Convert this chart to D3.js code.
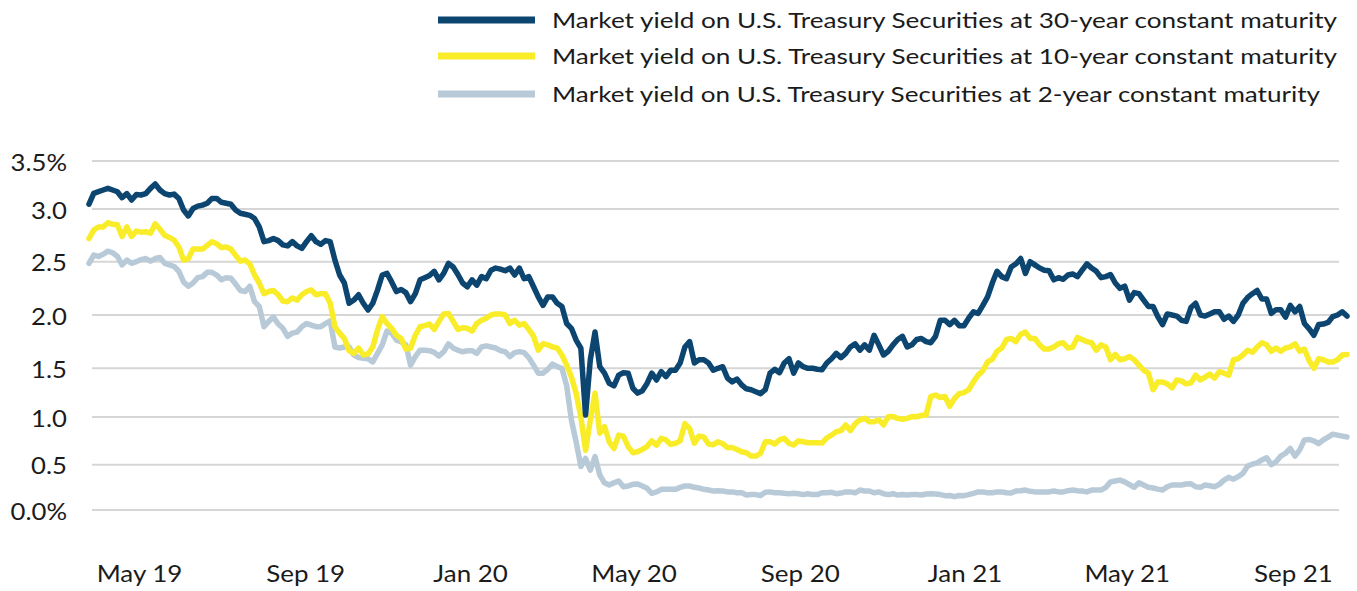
<!DOCTYPE html>
<html><head><meta charset="utf-8">
<script src="https://cdn.jsdelivr.net/npm/d3@7"></script>
<style>
body{margin:0;background:#fff;}
text{font-family:Lato,"Open Sans",sans-serif;fill:#1b1b1b;}
</style>
</head><body>
<svg id="chart" width="1357" height="591"></svg>
<script>
// ---- data: observations every half week from 25 Mar 2019 ----
const startDate = new Date(2019, 2, 25);
const endDate = new Date(2021, 9, 11);
const weekSteps = d3.range(0, 133.5, 0.5);

const y30 = [
  3.05, 3.163, 3.18, 3.198, 3.215, 3.198, 3.18, 3.118, 3.16, 3.094,
  3.15, 3.146, 3.16, 3.215, 3.26, 3.198, 3.16, 3.146, 3.155, 3.11,
  2.99, 2.934, 3.005, 3.03, 3.04, 3.06, 3.11, 3.11, 3.07, 3.06,
  3.05, 2.99, 2.96, 2.95, 2.94, 2.91, 2.83, 2.69, 2.70, 2.72,
  2.70, 2.66, 2.65, 2.69, 2.65, 2.627, 2.69, 2.747, 2.69, 2.665,
  2.70, 2.69, 2.515, 2.375, 2.30, 2.11, 2.14, 2.19, 2.11, 2.047,
  2.11, 2.234, 2.375, 2.39, 2.31, 2.22, 2.24, 2.21, 2.125, 2.20,
  2.33, 2.35, 2.37, 2.41, 2.33, 2.39, 2.485, 2.45, 2.38, 2.30,
  2.265, 2.33, 2.28, 2.36, 2.34, 2.42, 2.44, 2.43, 2.415, 2.44,
  2.375, 2.44, 2.34, 2.36, 2.265, 2.17, 2.09, 2.17, 2.17, 2.11,
  2.08, 1.92, 1.875, 1.765, 1.69, 1.02, 1.58, 1.84, 1.515, 1.45,
  1.345, 1.32, 1.43, 1.455, 1.45, 1.295, 1.245, 1.27, 1.345, 1.45,
  1.38, 1.465, 1.415, 1.48, 1.48, 1.55, 1.70, 1.75, 1.55, 1.58,
  1.58, 1.55, 1.48, 1.50, 1.515, 1.40, 1.36, 1.39, 1.33, 1.29,
  1.28, 1.26, 1.24, 1.28, 1.45, 1.49, 1.455, 1.55, 1.59, 1.45,
  1.55, 1.515, 1.50, 1.50, 1.49, 1.485, 1.55, 1.59, 1.64, 1.60,
  1.64, 1.70, 1.73, 1.67, 1.72, 1.67, 1.81, 1.72, 1.625, 1.66,
  1.72, 1.77, 1.80, 1.70, 1.72, 1.77, 1.78, 1.75, 1.74, 1.80,
  1.95, 1.95, 1.91, 1.95, 1.90, 1.90, 1.97, 2.03, 2.015, 2.09,
  2.17, 2.30, 2.41, 2.36, 2.34, 2.45, 2.48, 2.53, 2.39, 2.50,
  2.47, 2.44, 2.42, 2.415, 2.33, 2.35, 2.335, 2.375, 2.385, 2.36,
  2.42, 2.48, 2.44, 2.41, 2.35, 2.36, 2.38, 2.30, 2.25, 2.27,
  2.14, 2.21, 2.20, 2.14, 2.08, 2.08, 1.985, 1.91, 2.01, 2.00,
  1.99, 1.95, 1.94, 2.07, 2.11, 2.00, 1.99, 2.01, 2.03, 2.03,
  1.96, 1.99, 1.94, 2.00, 2.11, 2.165, 2.20, 2.23, 2.15, 2.15,
  2.015, 2.05, 2.05, 1.98, 2.09, 2.03, 2.08, 1.92, 1.87, 1.81,
  1.91, 1.915, 1.93, 1.985, 2.00, 2.03,
  1.99
];
const y10 = [
  2.72, 2.80, 2.83, 2.83, 2.87, 2.855, 2.85, 2.74, 2.83, 2.74,
  2.79, 2.78, 2.785, 2.77, 2.86, 2.81, 2.75, 2.73, 2.705, 2.64,
  2.515, 2.53, 2.62, 2.62, 2.62, 2.655, 2.69, 2.67, 2.635, 2.64,
  2.62, 2.56, 2.505, 2.515, 2.48, 2.375, 2.30, 2.20, 2.22, 2.23,
  2.19, 2.13, 2.125, 2.16, 2.14, 2.19, 2.22, 2.235, 2.19, 2.20,
  2.20, 2.11, 1.89, 1.83, 1.78, 1.665, 1.64, 1.69, 1.625, 1.635,
  1.70, 1.86, 1.985, 1.92, 1.875, 1.81, 1.78, 1.68, 1.69, 1.81,
  1.89, 1.90, 1.915, 1.865, 1.94, 2.01, 2.015, 1.94, 1.865, 1.88,
  1.875, 1.85, 1.92, 1.95, 1.97, 2.00, 2.01, 2.01, 2.00, 1.92,
  1.95, 1.905, 1.92, 1.865, 1.80, 1.67, 1.73, 1.72, 1.70, 1.69,
  1.625, 1.53, 1.41, 1.245, 1.00, 0.65, 0.97, 1.245, 0.83, 0.90,
  0.74, 0.67, 0.81, 0.80, 0.69, 0.626, 0.635, 0.66, 0.69, 0.75,
  0.705, 0.776, 0.76, 0.713, 0.725, 0.75, 0.93, 0.88, 0.725, 0.80,
  0.79, 0.717, 0.71, 0.74, 0.72, 0.68, 0.68, 0.66, 0.636, 0.626,
  0.59, 0.59, 0.62, 0.74, 0.74, 0.717, 0.76, 0.776, 0.725, 0.706,
  0.75, 0.74, 0.73, 0.73, 0.73, 0.727, 0.78, 0.81, 0.846, 0.857,
  0.916, 0.857, 0.93, 0.97, 0.986, 0.95, 0.95, 0.97, 0.916, 1.003,
  1.004, 0.986, 0.976, 0.986, 1.004, 1.003, 1.015, 1.02, 1.21, 1.226,
  1.20, 1.21, 1.11, 1.19, 1.24, 1.25, 1.28, 1.36, 1.43, 1.475,
  1.56, 1.585, 1.66, 1.69, 1.77, 1.78, 1.75, 1.82, 1.84, 1.78,
  1.78, 1.72, 1.68, 1.68, 1.70, 1.73, 1.74, 1.69, 1.70, 1.79,
  1.77, 1.75, 1.74, 1.67, 1.72, 1.70, 1.58, 1.63, 1.58, 1.59,
  1.61, 1.58, 1.53, 1.48, 1.45, 1.28, 1.36, 1.36, 1.34, 1.30,
  1.38, 1.37, 1.34, 1.35, 1.43, 1.38, 1.41, 1.44, 1.40, 1.465,
  1.45, 1.43, 1.58, 1.59, 1.625, 1.67, 1.65, 1.70, 1.74, 1.72,
  1.66, 1.69, 1.66, 1.69, 1.70, 1.73, 1.66, 1.68, 1.57, 1.50,
  1.59, 1.58, 1.56, 1.56, 1.58, 1.625,
  1.63
];
const y2 = [
  2.485, 2.563, 2.55, 2.57, 2.60, 2.585, 2.55, 2.47, 2.515, 2.485,
  2.50, 2.52, 2.53, 2.505, 2.53, 2.54, 2.485, 2.47, 2.455, 2.41,
  2.31, 2.27, 2.30, 2.35, 2.36, 2.40, 2.40, 2.375, 2.33, 2.35,
  2.345, 2.29, 2.23, 2.22, 2.27, 2.125, 2.08, 1.89, 1.94, 1.98,
  1.915, 1.875, 1.80, 1.83, 1.84, 1.89, 1.92, 1.905, 1.89, 1.89,
  1.92, 1.945, 1.70, 1.69, 1.70, 1.70, 1.625, 1.60, 1.595, 1.59,
  1.56, 1.64, 1.72, 1.85, 1.83, 1.765, 1.75, 1.72, 1.53, 1.61,
  1.67, 1.67, 1.665, 1.65, 1.615, 1.655, 1.73, 1.69, 1.67, 1.655,
  1.665, 1.665, 1.64, 1.70, 1.71, 1.70, 1.69, 1.665, 1.656, 1.61,
  1.647, 1.656, 1.647, 1.60, 1.53, 1.45, 1.45, 1.49, 1.54, 1.515,
  1.50, 1.32, 0.97, 0.74, 0.48, 0.565, 0.44, 0.585, 0.386, 0.30,
  0.276, 0.30, 0.32, 0.257, 0.265, 0.283, 0.287, 0.265, 0.24, 0.184,
  0.20, 0.228, 0.228, 0.228, 0.228, 0.25, 0.265, 0.265, 0.25, 0.243,
  0.228, 0.22, 0.21, 0.213, 0.21, 0.20, 0.20, 0.19, 0.19, 0.165,
  0.17, 0.17, 0.16, 0.195, 0.20, 0.19, 0.19, 0.184, 0.18, 0.184,
  0.18, 0.17, 0.18, 0.17, 0.17, 0.19, 0.19, 0.195, 0.18, 0.187,
  0.20, 0.20, 0.19, 0.22, 0.21, 0.21, 0.19, 0.20, 0.18, 0.17,
  0.18, 0.165, 0.17, 0.165, 0.17, 0.17, 0.165, 0.176, 0.18, 0.176,
  0.17, 0.158, 0.16, 0.147, 0.16, 0.158, 0.17, 0.184, 0.20, 0.20,
  0.19, 0.19, 0.20, 0.20, 0.19, 0.187, 0.21, 0.213, 0.22, 0.206,
  0.20, 0.20, 0.20, 0.20, 0.21, 0.20, 0.20, 0.213, 0.22, 0.213,
  0.21, 0.20, 0.22, 0.22, 0.22, 0.25, 0.31, 0.32, 0.33, 0.31,
  0.28, 0.25, 0.30, 0.276, 0.25, 0.243, 0.23, 0.22, 0.257, 0.276,
  0.276, 0.276, 0.287, 0.29, 0.257, 0.25, 0.276, 0.268, 0.257, 0.283,
  0.33, 0.36, 0.34, 0.368, 0.405, 0.485, 0.505, 0.52, 0.55, 0.573,
  0.50, 0.53, 0.59, 0.62, 0.67, 0.59, 0.655, 0.76, 0.765, 0.75,
  0.72, 0.76, 0.79, 0.82, 0.81, 0.80,
  0.79
];

const seriesNames = [
  "Market yield on U.S. Treasury Securities at 30-year constant maturity",
  "Market yield on U.S. Treasury Securities at 10-year constant maturity",
  "Market yield on U.S. Treasury Securities at 2-year constant maturity"
];
const seriesColors = ["#0b4570", "#f9ec28", "#b8cad8"];

const yTicks = [0, 0.5, 1.0, 1.5, 2.0, 2.5, 3.0, 3.5];
const yTickLabels = ["0.0%", "0.5", "1.0", "1.5", "2.0", "2.5", "3.0", "3.5%"];
const yTickPixels = [510, 464.7, 417, 368.3, 315, 261.7, 209, 161];
const xTickDates = [new Date(2019,4,1), new Date(2019,8,1), new Date(2020,0,1), new Date(2020,4,1),
                    new Date(2020,8,1), new Date(2021,0,1), new Date(2021,4,1), new Date(2021,8,1)];
const xTickLabels = ["May 19", "Sep 19", "Jan 20", "May 20", "Sep 20", "Jan 21", "May 21", "Sep 21"];

// ---- drawing ----
const svg = d3.select("#chart");
const dates = weekSteps.map(w => d3.timeHour.offset(startDate, Math.round(w * 168)));
const x = d3.scaleTime().domain([startDate, endDate]).range([89, 1347]);
const y = d3.scaleLinear().domain(yTicks).range(yTickPixels);

function widen(sel, f) {
  sel.each(function() {
    const w = this.getComputedTextLength();
    d3.select(this).attr("textLength", w * f).attr("lengthAdjust", "spacingAndGlyphs");
  });
}

// gridlines
svg.append("g").selectAll("line").data(yTicks).join("line")
  .attr("x1", 92).attr("x2", 1339)
  .attr("y1", d => y(d)).attr("y2", d => y(d))
  .attr("stroke", "#d6d6d6").attr("stroke-width", 2);

// y labels
const yl = svg.append("g").selectAll("text").data(yTicks).join("text")
  .attr("x", 67).attr("y", d => y(d))
  .attr("text-anchor", "end").attr("dominant-baseline", "central")
  .attr("font-size", 24)
  .text((d, i) => yTickLabels[i]);
widen(yl, 1.07);

// x axis labels
const xAxis = d3.axisBottom(x).tickValues(xTickDates).tickSize(0)
  .tickFormat((d, i) => xTickLabels[i]);
const gx = svg.append("g").attr("transform", "translate(0,562)").call(xAxis);
gx.select(".domain").remove();
const xl = gx.selectAll("text").attr("font-size", 24).attr("fill", "#1b1b1b")
  .style("font-family", "Lato, 'Open Sans', sans-serif");
widen(xl, 1.08);

// lines (2-year at back, 30-year on top)
const series = [y2, y10, y30];
const colorsDraw = [seriesColors[2], seriesColors[1], seriesColors[0]];
const line = d3.line().x((d, i) => x(dates[i])).y(d => y(d));
svg.append("g").selectAll("path").data(series).join("path")
  .attr("d", d => line(d))
  .attr("fill", "none")
  .attr("stroke", (d, i) => colorsDraw[i])
  .attr("stroke-width", 5.5)
  .attr("stroke-linejoin", "round")
  .attr("stroke-linecap", "round");

// legend
const legendY = [20, 56, 94];
const legendW = [785, 785, 768];
const lg = svg.append("g");
seriesNames.forEach((name, i) => {
  lg.append("line").attr("x1", 438).attr("x2", 535)
    .attr("y1", legendY[i]).attr("y2", legendY[i])
    .attr("stroke", seriesColors[i]).attr("stroke-width", 7);
  lg.append("text").attr("x", 552).attr("y", legendY[i] + 7.5)
    .attr("font-size", 21)
    .attr("textLength", legendW[i]).attr("lengthAdjust", "spacingAndGlyphs")
    .text(name);
});
</script>
</body></html>
